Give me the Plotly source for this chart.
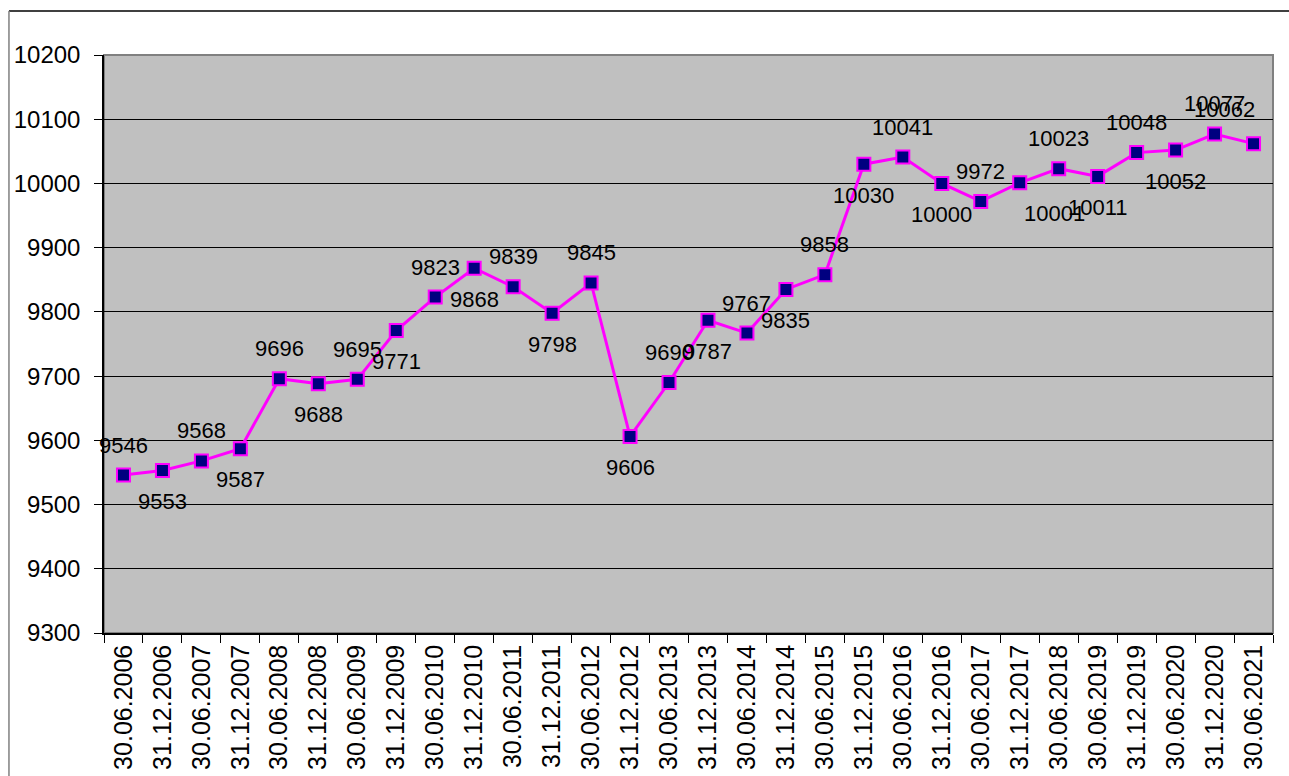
import plotly.graph_objects as go

# Reporting dates (half-year snapshots)
dates = [
    "30.06.2006", "31.12.2006", "30.06.2007", "31.12.2007", "30.06.2008",
    "31.12.2008", "30.06.2009", "31.12.2009", "30.06.2010", "31.12.2010",
    "30.06.2011", "31.12.2011", "30.06.2012", "31.12.2012", "30.06.2013",
    "31.12.2013", "30.06.2014", "31.12.2014", "30.06.2015", "31.12.2015",
    "30.06.2016", "31.12.2016", "30.06.2017", "31.12.2017", "30.06.2018",
    "30.06.2019", "31.12.2019", "30.06.2020", "31.12.2020", "30.06.2021",
]

values = [
    9546, 9553, 9568, 9587, 9696,
    9688, 9695, 9771, 9823, 9868,
    9839, 9798, 9845, 9606, 9690,
    9787, 9767, 9835, 9858, 10030,
    10041, 10000, 9972, 10001, 10023,
    10011, 10048, 10052, 10077, 10062,
]

y_ticks = [9300, 9400, 9500, 9600, 9700, 9800, 9900, 10000, 10100, 10200]

FONT = "Liberation Sans, Arial, sans-serif"

fig = go.Figure()
fig.add_trace(go.Scatter(
    x=dates,
    y=values,
    mode="lines+markers",
    line=dict(color="#FF00FF", width=3),
    marker=dict(symbol="square", size=13, color="#000080",
                line=dict(color="#FF00FF", width=2)),
    hoverinfo="x+y",
    showlegend=False,
))

# Value labels: alternate above / below the markers
label_nudges = {23: (35, 0), 29: (-29, 4)}
annotations = []
for i, (d, v) in enumerate(zip(dates, values)):
    above = (i % 2 == 0) or i == 29
    dx, dy = label_nudges.get(i, (0, 0))
    annotations.append(dict(
        x=d, y=v, xref="x", yref="y",
        text=str(v), showarrow=False,
        xshift=dx, yshift=(30 if above else -31) + dy,
        font=dict(family=FONT, size=22, color="black"),
    ))

fig.update_layout(
    width=1289, height=776,
    margin=dict(l=104, r=16, t=55, b=143),
    paper_bgcolor="white",
    plot_bgcolor="#C0C0C0",
    annotations=annotations,
    shapes=[
        # plot-area frame
        dict(type="rect", xref="paper", yref="paper", x0=0, y0=0, x1=1, y1=1,
             line=dict(color="#808080", width=2), layer="below"),
        # outer chart border (top and left edges)
        dict(type="line", xref="paper", yref="paper", x0=-0.0813, x1=1.02,
             y0=1.0761, y1=1.0761, line=dict(color="black", width=1.5)),
        dict(type="line", xref="paper", yref="paper", x0=-0.0813, x1=-0.0813,
             y0=1.0761, y1=-0.3, line=dict(color="#808080", width=1.5)),
    ],
    xaxis=dict(
        type="category",
        tickson="boundaries",
        ticks="outside", ticklen=8, tickcolor="black", tickwidth=1,
        tickangle=-90,
        tickfont=dict(family=FONT, size=25, color="black"),
        showline=True, linecolor="black", linewidth=1.5,
        showgrid=False, zeroline=False,
        automargin=False,
        range=[-0.5, len(dates) - 0.5],
    ),
    yaxis=dict(
        range=[9300, 10200],
        tickvals=y_ticks,
        tickformat="d",
        ticks="outside", ticklen=8, tickcolor="black", tickwidth=1,
        ticklabelstandoff=9,
        tickfont=dict(family=FONT, size=24, color="black"),
        showline=True, linecolor="black", linewidth=1.5,
        showgrid=True, gridcolor="black", gridwidth=1,
        zeroline=False,
        automargin=False,
    ),
)

fig.write_html("out.html")
